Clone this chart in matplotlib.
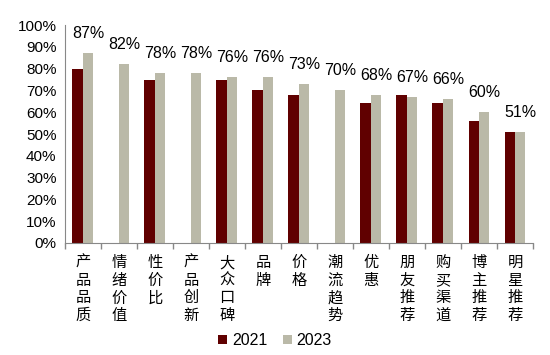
import numpy as np
import matplotlib
matplotlib.use('Agg')
import matplotlib.pyplot as plt
from matplotlib.ticker import FixedLocator, PercentFormatter

plt.rcParams['font.family'] = ['Liberation Sans', 'Noto Sans CJK SC', 'DejaVu Sans']

categories = ['产品品质', '情绪价值', '性价比', '产品创新', '大众口碑', '品牌', '价格',
              '潮流趋势', '优惠', '朋友推荐', '购买渠道', '博主推荐', '明星推荐']
v2021 = [80, np.nan, 75, np.nan, 75, 70, 68, np.nan, 64, 68, 64, 56, 51]
v2023 = [87, 82, 78, 78, 76, 76, 73, 70, 68, 67, 66, 60, 51]

c2021 = '#600000'
c2023 = '#BAB9A8'

fig = plt.figure(figsize=(5.5, 3.55), dpi=100)
ax = fig.add_axes([0.118, 0.3155, 0.851, 0.614])

x = np.arange(len(categories))
w = 0.29
a21 = np.array(v2021, dtype=float)
m = ~np.isnan(a21)
ax.bar(x[m] - w / 2, a21[m], width=w, color=c2021, label='2021')
ax.bar(x + w / 2, v2023, width=w, color=c2023, label='2023')

for xi, v in zip(x, v2023):
    ax.text(xi + w / 2, v + 5.5, f'{v}%', ha='center', va='bottom', fontsize=11.5, color='black')

ax.set_xlim(-0.5, len(categories) - 0.5)
ax.set_ylim(0, 100)
ax.set_yticks(np.arange(0, 101, 10))
ax.yaxis.set_major_formatter(PercentFormatter(decimals=0))
ax.tick_params(axis='y', length=0, labelsize=11, pad=6, labelcolor='black')

ax.set_xticks(x)
ax.set_xticklabels(['\n'.join(c) for c in categories], fontsize=11,
                   family=['Noto Sans CJK SC'], fontweight='medium', linespacing=1.05)
ax.xaxis.set_minor_locator(FixedLocator(np.arange(-0.5, len(categories), 1)))
ax.tick_params(axis='x', which='major', length=0, pad=8)
ax.tick_params(axis='x', which='minor', length=4, color='#888888', width=1)

for s in ['top', 'right']:
    ax.spines[s].set_visible(False)
for s in ['left', 'bottom']:
    ax.spines[s].set_color('#888888')

leg = fig.legend(loc='center', bbox_to_anchor=(0.5, 0.04), ncol=2, frameon=False,
                 fontsize=11.5, handlelength=0.55, handleheight=0.55, handletextpad=0.3,
                 columnspacing=1.0)

fig.savefig('out.png', dpi=100)
